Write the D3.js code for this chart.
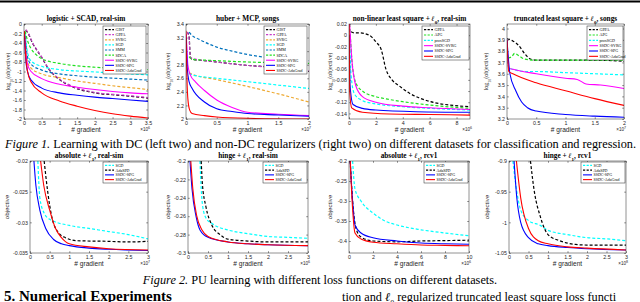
<!DOCTYPE html>
<html>
<head>
<meta charset="utf-8">
<script src="https://cdn.jsdelivr.net/npm/d3@7"></script>
<style>
  body { margin: 0; background: #fff; }
  svg { display: block; }
</style>
</head>
<body>
<svg width="640" height="302"></svg>
<script>
// ---- data: top row (Figure 1) ----
// logistic + SCAD, real-sim  (x in 1e6 gradients, y = log10 objective)
const lsc_GIST = [[0.05,-0.13],[0.12,-0.2],[0.24,-0.4],[0.48,-0.68],[0.71,-0.96],[1,-1.17],[1.33,-1.31],[2,-1.45],[2.5,-1.49],[3,-1.52],[3.5,-1.56]];
const lsc_GPPA = [[0.05,-0.12],[0.12,-0.19],[0.24,-0.39],[0.48,-0.67],[0.71,-0.95],[1,-1.16],[1.33,-1.3],[2,-1.44],[2.5,-1.48],[3,-1.51],[3.5,-1.55]];
const lsc_SVRG = [[0.03,-0.3],[0.1,-0.8],[0.2,-0.93],[0.5,-1.05],[1,-1.13],[1.5,-1.2],[2,-1.25],[2.5,-1.3],[3,-1.34],[3.5,-1.38]];
const lsc_SGD = [[0.03,-0.2],[0.1,-0.6],[0.2,-0.78],[0.5,-0.89],[1,-0.96],[1.5,-0.99],[2,-1.01],[2.5,-1.03],[3,-1.05],[3.5,-1.07]];
const lsc_SMM = [[0.03,-0.25],[0.1,-0.7],[0.2,-0.85],[0.5,-0.97],[1,-1.05],[1.5,-1.09],[2,-1.12],[2.5,-1.14],[3,-1.16],[3.5,-1.18]];
const lsc_SDCA = [[0.03,-0.15],[0.1,-0.35],[0.2,-0.52],[0.35,-0.65],[0.5,-0.73],[1,-0.83],[1.5,-0.88],[2,-0.91],[2.5,-0.93],[3,-0.95],[3.5,-0.96]];
const lsc_SSVRG = [[0.01,-0.15],[0.05,-0.6],[0.1,-0.85],[0.2,-1.0],[0.5,-1.15],[1,-1.27],[1.5,-1.33],[2,-1.38],[2.5,-1.42],[3,-1.45],[3.5,-1.47]];
const lsc_SSPG = [[0.01,-0.2],[0.05,-0.75],[0.1,-1.0],[0.2,-1.18],[0.5,-1.35],[1,-1.45],[1.5,-1.5],[2,-1.54],[2.5,-1.57],[3,-1.6],[3.5,-1.63]];
const lsc_SADA = [[0.01,-0.15],[0.05,-0.7],[0.1,-1.0],[0.2,-1.22],[0.5,-1.45],[1,-1.62],[1.5,-1.73],[2,-1.82],[2.5,-1.89],[3,-1.94],[3.5,-1.98]];

// huber + MCP, songs (x in 1e7)
const hmc_GIST = [[0.02,3.28],[0.05,3.22],[0.07,2.92],[0.1,2.88],[0.3,2.86],[0.5,2.84],[1,2.79],[1.5,2.76],[2,2.7]];
const hmc_GPPA = [[0.02,3.28],[0.05,3.2],[0.07,2.9],[0.5,2.84],[1,2.79],[1.5,2.75],[2,2.71]];
const hmc_SVRG = [[0.05,2.68],[0.1,2.66],[0.5,2.58],[1,2.48],[1.5,2.37],[2,2.25]];
const hmc_SGD = [[0.05,2.67],[0.1,2.65],[0.5,2.6],[1,2.55],[1.5,2.5],[2,2.45]];
const hmc_SMM = [[0.05,3.28],[0.1,3.23],[0.2,3.18],[0.5,3.06],[0.75,3.0],[1,2.95],[1.5,2.89],[2,2.86]];
const hmc_SDCA = [[0.05,2.92],[0.1,2.88],[0.5,2.86],[1,2.84],[1.5,2.83],[2,2.82]];
const hmc_SSVRG = [[0.005,3.25],[0.03,2.8],[0.07,2.65],[0.15,2.55],[0.3,2.42],[0.5,2.28],[0.75,2.17],[1,2.1],[1.5,2.07],[2,2.05]];
const hmc_SSPG = [[0.005,3.2],[0.02,2.75],[0.05,2.55],[0.1,2.45],[0.3,2.25],[0.5,2.15],[0.75,2.11],[1,2.08],[1.5,2.06],[2,2.04]];
const hmc_SADA = [[0,3.3],[0.01,2.8],[0.03,2.3],[0.06,2.13],[0.1,2.08],[0.3,2.05],[0.5,2.03],[1,2.01],[2,2.0]];

// non-linear least square + l0, real-sim (x in 1e6)
const nls_GPPA = [[0.15,0.006],[0.4,0.004],[0.8,0.004],[1.5,0.0],[2,-0.012],[2.4,-0.026],[2.75,-0.061],[3.2,-0.08],[3.75,-0.091],[4.5,-0.104],[5.2,-0.112],[6.4,-0.121],[7.5,-0.125],[9,-0.128]];
const nls_APG = [[0.05,0.02],[0.2,-0.04],[0.5,-0.085],[1,-0.1],[2,-0.11],[3,-0.115],[4,-0.119],[6,-0.125],[9,-0.131]];
const nls_PSGD = [[0.05,0.0],[0.15,-0.07],[0.4,-0.105],[1,-0.117],[2,-0.123],[4,-0.128],[6,-0.131],[9,-0.134]];
const nls_SSVRG = [[0.05,0.02],[0.2,-0.04],[0.5,-0.09],[1,-0.11],[2,-0.12],[4,-0.127],[6,-0.13],[9,-0.133]];
const nls_SSPG = [[0.02,0.0],[0.08,-0.09],[0.3,-0.124],[1,-0.131],[2,-0.134],[5,-0.137],[9,-0.138]];
const nls_SADA = [[0.01,0.02],[0.05,-0.1],[0.2,-0.13],[1,-0.138],[3,-0.141],[6,-0.142],[9,-0.143]];

// truncated least square + l0, songs (x in 1e7)
const tls_GPPA = [[0,3.91],[0.1,3.89],[0.2,3.85],[0.3,3.78],[0.4,3.73],[0.5,3.72],[1,3.72],[1.5,3.72],[2,3.71]];
const tls_APG = [[0.02,3.74],[0.08,3.75],[0.13,3.78],[0.2,3.76],[0.3,3.73],[0.5,3.72],[1,3.72],[2,3.72]];
const tls_PSGD = [[0,3.9],[0.03,3.65],[0.1,3.64],[0.3,3.62],[0.5,3.62],[1,3.61],[1.5,3.6],[2,3.59]];
const tls_SSVRG = [[0,3.9],[0.03,3.65],[0.1,3.64],[0.5,3.6],[1,3.56],[1.2,3.55],[1.35,3.51],[1.6,3.5],[2,3.47]];
const tls_SSPG = [[0,3.9],[0.05,3.6],[0.15,3.45],[0.25,3.35],[0.35,3.3],[0.5,3.27],[1,3.24],[1.5,3.225],[2,3.215]];
const tls_SADA = [[0,3.9],[0.03,3.62],[0.1,3.6],[0.5,3.52],[1,3.45],[1.5,3.38],[2,3.32]];

// ---- data: bottom row (Figure 2) ----
const ars_SGD = [[0.2,-0.02],[0.25,-0.026],[0.36,-0.0285],[0.5,-0.0295],[1,-0.0305],[1.5,-0.031],[2,-0.0315],[2.5,-0.032],[3,-0.0327]];
const ars_ADA = [[0.36,-0.02],[0.45,-0.025],[0.55,-0.029],[0.7,-0.0315],[0.9,-0.0325],[1.2,-0.033],[2,-0.0331],[2.5,-0.0332],[3,-0.0331]];
const ars_SSPG = [[0.1,-0.02],[0.15,-0.024],[0.25,-0.028],[0.4,-0.031],[0.6,-0.0328],[0.8,-0.0335],[1,-0.0338],[1.5,-0.0342],[2,-0.0344],[3,-0.0346]];
const ars_SADA = [[0.27,-0.02],[0.35,-0.024],[0.5,-0.028],[0.65,-0.031],[0.8,-0.0325],[1,-0.0335],[1.5,-0.034],[2,-0.0343],[3,-0.0345]];

const hrs_SGD = [[0.3,-0.2],[0.33,-0.23],[0.37,-0.25],[0.45,-0.262],[0.6,-0.268],[1,-0.275],[1.5,-0.279],[2,-0.282],[2.5,-0.283],[3,-0.284]];
const hrs_ADA = [[0.33,-0.2],[0.36,-0.225],[0.45,-0.25],[0.6,-0.27],[0.8,-0.28],[1,-0.285],[1.5,-0.287],[2,-0.288],[3,-0.288]];
const hrs_SSPG = [[0.05,-0.2],[0.1,-0.23],[0.2,-0.26],[0.3,-0.275],[0.5,-0.283],[1,-0.288],[1.5,-0.29],[2,-0.291],[3,-0.292]];
const hrs_SADA = [[0.07,-0.2],[0.12,-0.23],[0.22,-0.26],[0.35,-0.275],[0.5,-0.282],[1,-0.288],[1.5,-0.29],[2,-0.291],[3,-0.292]];

const arc_SGD = [[0.3,-0.2],[0.5,-0.27],[1,-0.3],[2,-0.33],[3,-0.35],[4,-0.36],[6,-0.372],[8,-0.38],[10,-0.387]];
const arc_ADA = [[0.1,-0.2],[0.3,-0.3],[0.6,-0.37],[1,-0.39],[2,-0.4],[4,-0.402],[6,-0.4],[8,-0.399],[10,-0.398]];
const arc_SSPG = [[0.1,-0.2],[0.3,-0.3],[0.5,-0.36],[1,-0.38],[2,-0.392],[4,-0.4],[6,-0.405],[8,-0.407],[10,-0.408]];
const arc_SADA = [[0.1,-0.2],[0.3,-0.32],[0.5,-0.38],[1,-0.395],[2,-0.403],[4,-0.407],[6,-0.41],[8,-0.411],[10,-0.412]];

const hrc_SGD = [[0.1,-0.9],[0.2,-0.95],[0.3,-0.98],[0.5,-0.997],[0.8,-1.005],[1,-1.013],[1.5,-1.02],[2,-1.025],[2.5,-1.027],[3,-1.03]];
const hrc_ADA = [[0.55,-0.9],[0.65,-0.95],[0.8,-0.99],[1,-1.02],[1.3,-1.03],[1.7,-1.036],[2,-1.037],[3,-1.037]];
const hrc_SSPG = [[0.13,-0.9],[0.2,-0.96],[0.3,-1.0],[0.5,-1.025],[0.75,-1.035],[1,-1.038],[1.5,-1.041],[2,-1.043],[3,-1.045]];
const hrc_SADA = [[0.19,-0.9],[0.3,-0.96],[0.5,-1.01],[0.75,-1.03],[1,-1.035],[1.5,-1.04],[2,-1.042],[3,-1.045]];

// tick values
const ticks_lsc_x = [0,0.5,1,1.5,2,2.5,3,3.5], ticks_lsc_y = [-2,-1.8,-1.6,-1.4,-1.2,-1,-0.8,-0.6,-0.4,-0.2,0];
const ticks_hmc_x = [0,0.5,1,1.5,2], ticks_hmc_y = [2,2.2,2.4,2.6,2.8,3,3.2,3.4];
const ticks_nls_x = [0,2,4,6,8], ticks_nls_y = [-0.14,-0.12,-0.1,-0.08,-0.06,-0.04,-0.02,0,0.02];
const ticks_tls_x = [0,0.5,1,1.5,2], ticks_tls_y = [3.2,3.3,3.4,3.5,3.6,3.7,3.8,3.9,4];
const ticks_ars_x = [0,0.5,1,1.5,2,2.5,3], ticks_ars_y = [-0.035,-0.03,-0.025,-0.02];
const ticks_hrs_x = [0,0.5,1,1.5,2,2.5,3], ticks_hrs_y = [-0.3,-0.28,-0.26,-0.24,-0.22,-0.2];
const ticks_arc_x = [0,2,4,6,8,10], ticks_arc_y = [-0.4,-0.35,-0.3,-0.25,-0.2];
const ticks_hrc_x = [0,0.5,1,1.5,2,2.5,3], ticks_hrc_y = [-1.05,-1,-0.95,-0.9];

// line styles
const sty = {
  GIST: {c:'#000', d:'3,2'}, GPPA: {c:'#c83cc8', d:'3,2'}, GPPAk: {c:'#000', d:'3,2'},
  SVRG: {c:'#eeaa33', d:'3,2'}, SGD: {c:'#00ffff', d:'3,2'}, SMM: {c:'#0072bd', d:'3,2'},
  SDCA: {c:'#22e022', d:'3,2'}, APG: {c:'#22e022', d:'3,2'}, PSGD: {c:'#00ffff', d:'3,2'},
  ADA: {c:'#000', d:'3,2'},
  SSVRG: {c:'#ff00ff', d:null}, SSPG: {c:'#0000ff', d:null}, SADA: {c:'#ff0000', d:null}
};

const svg = d3.select('svg');
const fmt = d => String(+(+d).toFixed(4));

// top page rule
svg.append('rect').attr('x', 0).attr('y', 0.5).attr('width', 640).attr('height', 2).attr('fill', '#000');

function drawPanel(p) {
  const [x0, y0, x1, y1] = p.box;
  const x = d3.scaleLinear().domain(p.xDomain).range([x0, x1]);
  const y = d3.scaleLinear().domain(p.yDomain).range([y1, y0]);
  const g = svg.append('g');

  g.append('clipPath').attr('id', 'clip' + p.id)
    .append('rect').attr('x', x0).attr('y', y0).attr('width', x1 - x0).attr('height', y1 - y0);

  // axes, ticks pointing in (matlab style)
  const ax = (gen, tx, ty, labels) => {
    const a = g.append('g').attr('transform', `translate(${tx},${ty})`)
      .call(gen.tickSize(-1.8).tickSizeOuter(0).tickPadding(labels ? 2 : 0)
        .tickFormat(labels ? fmt : ''));
    a.select('.domain').remove();
    a.selectAll('line').attr('stroke', '#262626').attr('stroke-width', 0.5);
    a.selectAll('text').attr('fill', '#262626').style('font-family', 'Liberation Sans, Arial, sans-serif').style('font-size', '5.3px');
  };
  ax(d3.axisBottom(x).tickValues(p.xTicks), 0, y1, true);
  ax(d3.axisTop(x).tickValues(p.xTicks), 0, y0, false);
  ax(d3.axisLeft(y).tickValues(p.yTicks), x0, 0, true);
  ax(d3.axisRight(y).tickValues(p.yTicks), x1, 0, false);

  const line = d3.line().x(d => x(d[0])).y(d => y(d[1])).curve(d3.curveMonotoneX);
  const lines = g.append('g').attr('clip-path', `url(#clip${p.id})`);
  p.series.forEach(s => {
    const st = sty[s.k];
    lines.append('path').attr('d', line(s.data))
      .attr('fill', 'none').attr('stroke', st.c)
      .attr('stroke-width', st.d ? 1.2 : 1.1)
      .attr('stroke-dasharray', st.d);
  });

  g.append('rect').attr('x', x0).attr('y', y0).attr('width', x1 - x0).attr('height', y1 - y0)
    .attr('fill', 'none').attr('stroke', '#262626').attr('stroke-width', 0.5);

  // title
  const t = g.append('text').attr('x', (x0 + x1) / 2).attr('y', y0 - 3.5).attr('text-anchor', 'middle')
    .style('font-family', 'Liberation Serif, Times New Roman, serif').style('font-weight', 'bold').style('font-size', '7.3px');
  p.title.forEach(part => {
    const ts = t.append('tspan').text(part.t);
    if (part.i) ts.style('font-style', 'italic');
    if (part.sub) ts.attr('baseline-shift', 'sub').style('font-size', '5px');
  });

  // x label + exponent
  g.append('text').attr('x', (x0 + x1) / 2).attr('y', y1 + 13).attr('text-anchor', 'middle')
    .attr('fill', '#262626')
    .style('font-family', 'Liberation Sans, Arial, sans-serif').style('font-size', '6.6px').text('# gradient');
  const e = g.append('text').attr('x', x1 + 2).attr('y', y1 + 12).attr('text-anchor', 'end')
    .attr('fill', '#262626')
    .style('font-family', 'Liberation Sans, Arial, sans-serif').style('font-size', '4.6px');
  e.append('tspan').text('\u00d710');
  e.append('tspan').attr('baseline-shift', 'super').style('font-size', '3.6px').text(p.exp);

  // y label
  const yl = g.append('text').attr('transform', `translate(${p.ylx},${(y0 + y1) / 2}) rotate(-90)`)
    .attr('text-anchor', 'middle').attr('fill', '#262626')
    .style('font-family', p.logY ? 'Liberation Serif, serif' : 'Liberation Sans, Arial, sans-serif')
    .style('font-size', p.logY ? '6px' : '6.2px');
  if (p.logY) {
    yl.append('tspan').text('log');
    yl.append('tspan').attr('baseline-shift', 'sub').style('font-size', '4px').text('10');
    yl.append('tspan').text('(objective)');
  } else {
    yl.text('objective');
  }

  // legend
  const [lx0, ly0, lx1, ly1] = p.legend;
  g.append('rect').attr('x', lx0).attr('y', ly0).attr('width', lx1 - lx0).attr('height', ly1 - ly0)
    .attr('fill', '#fff').attr('stroke', '#262626').attr('stroke-width', 0.5);
  const rh = (ly1 - ly0 - 2) / p.series.length;
  p.series.forEach((s, i) => {
    const st = sty[s.k];
    const cy = ly0 + 1 + rh * (i + 0.5);
    g.append('line').attr('x1', lx0 + 2).attr('x2', lx0 + 11).attr('y1', cy).attr('y2', cy)
      .attr('stroke', st.c).attr('stroke-width', st.d ? 1.2 : 1.1).attr('stroke-dasharray', st.d ? '2.2,1.4' : null);
    g.append('text').attr('x', lx0 + 12.5).attr('y', cy + 1.4)
      .style('font-family', 'Liberation Serif, serif').style('font-size', '4px').attr('fill', '#000').text(s.name);
  });
}

const L = (t, o = {}) => Object.assign({t}, o);

const panels = [
  {id: 'a', box: [24, 24, 148, 119], xDomain: [0, 3.5], yDomain: [-2, 0], xTicks: ticks_lsc_x, yTicks: ticks_lsc_y,
   exp: '6', logY: true, ylx: 10, legend: [103, 26, 146, 74],
   title: [L('logistic + SCAD, real-sim')],
   series: [{k:'GIST', name:'GIST', data: lsc_GIST}, {k:'GPPA', name:'GPPA', data: lsc_GPPA}, {k:'SVRG', name:'SVRG', data: lsc_SVRG},
            {k:'SGD', name:'SGD', data: lsc_SGD}, {k:'SMM', name:'SMM', data: lsc_SMM}, {k:'SDCA', name:'SDCA', data: lsc_SDCA},
            {k:'SSVRG', name:'SSDC-SVRG', data: lsc_SSVRG}, {k:'SSPG', name:'SSDC-SPG', data: lsc_SSPG}, {k:'SADA', name:'SSDC-AdaGrad', data: lsc_SADA}]},
  {id: 'b', box: [186, 24, 309, 119], xDomain: [0, 2], yDomain: [2, 3.4], xTicks: ticks_hmc_x, yTicks: ticks_hmc_y,
   exp: '7', logY: true, ylx: 170, legend: [264, 26, 307, 74],
   title: [L('huber + MCP, songs')],
   series: [{k:'GIST', name:'GIST', data: hmc_GIST}, {k:'GPPA', name:'GPPA', data: hmc_GPPA}, {k:'SVRG', name:'SVRG', data: hmc_SVRG},
            {k:'SGD', name:'SGD', data: hmc_SGD}, {k:'SMM', name:'SMM', data: hmc_SMM}, {k:'SDCA', name:'SDCA', data: hmc_SDCA},
            {k:'SSVRG', name:'SSDC-SVRG', data: hmc_SSVRG}, {k:'SSPG', name:'SSDC-SPG', data: hmc_SSPG}, {k:'SADA', name:'SSDC-AdaGrad', data: hmc_SADA}]},
  {id: 'c', box: [349, 24, 470, 119], xDomain: [0, 9], yDomain: [-0.15, 0.02], xTicks: ticks_nls_x, yTicks: ticks_nls_y,
   exp: '6', logY: true, ylx: 332, legend: [422, 26, 469, 60],
   title: [L('non-linear least square + '), L('\u2113', {i: true}), L('0', {sub: true}), L(', real-sim')],
   series: [{k:'GPPAk', name:'GPPA', data: nls_GPPA}, {k:'APG', name:'APG', data: nls_APG}, {k:'PSGD', name:'proxSGD', data: nls_PSGD},
            {k:'SSVRG', name:'SSDC-SVRG', data: nls_SSVRG}, {k:'SSPG', name:'SSDC-SPG', data: nls_SSPG}, {k:'SADA', name:'SSDC-AdaGrad', data: nls_SADA}]},
  {id: 'd', box: [507, 24, 624, 119], xDomain: [0, 2], yDomain: [3.2, 4.04], xTicks: ticks_tls_x, yTicks: ticks_tls_y,
   exp: '7', logY: true, ylx: 488, legend: [587, 26, 623, 60],
   title: [L('truncated least square + '), L('\u2113', {i: true}), L('0', {sub: true}), L(', songs')],
   series: [{k:'GPPAk', name:'GPPA', data: tls_GPPA}, {k:'APG', name:'APG', data: tls_APG}, {k:'PSGD', name:'proxSGD', data: tls_PSGD},
            {k:'SSVRG', name:'SSDC-SVRG', data: tls_SSVRG}, {k:'SSPG', name:'SSDC-SPG', data: tls_SSPG}, {k:'SADA', name:'SSDC-AdaGrad', data: tls_SADA}]},
  {id: 'e', box: [30, 161, 148, 253], xDomain: [0, 3], yDomain: [-0.035, -0.02], xTicks: ticks_ars_x, yTicks: ticks_ars_y,
   exp: '7', logY: false, ylx: 9, legend: [103, 162, 147, 183],
   title: [L('absolute + '), L('\u2113', {i: true}), L('1', {sub: true}), L(', real-sim')],
   series: [{k:'SGD', name:'SGD', data: ars_SGD}, {k:'ADA', name:'AdaSPD', data: ars_ADA},
            {k:'SSPG', name:'SSDC-SPG', data: ars_SSPG}, {k:'SADA', name:'SSDC-AdaGrad', data: ars_SADA}]},
  {id: 'f', box: [188, 161, 308, 253], xDomain: [0, 3], yDomain: [-0.3, -0.2], xTicks: ticks_hrs_x, yTicks: ticks_hrs_y,
   exp: '6', logY: false, ylx: 170, legend: [263, 162, 307, 183],
   title: [L('hinge + '), L('\u2113', {i: true}), L('1', {sub: true}), L(', real-sim')],
   series: [{k:'SGD', name:'SGD', data: hrs_SGD}, {k:'ADA', name:'AdaSPD', data: hrs_ADA},
            {k:'SSPG', name:'SSDC-SPG', data: hrs_SSPG}, {k:'SADA', name:'SSDC-AdaGrad', data: hrs_SADA}]},
  {id: 'g', box: [349, 161, 469, 253], xDomain: [0, 10], yDomain: [-0.43, -0.2], xTicks: ticks_arc_x, yTicks: ticks_arc_y,
   exp: '6', logY: false, ylx: 332, legend: [424, 162, 468, 183],
   title: [L('absolute + '), L('\u2113', {i: true}), L('1', {sub: true}), L(', rcv1')],
   series: [{k:'SGD', name:'SGD', data: arc_SGD}, {k:'ADA', name:'AdaSPD', data: arc_ADA},
            {k:'SSPG', name:'SSDC-SPG', data: arc_SSPG}, {k:'SADA', name:'SSDC-AdaGrad', data: arc_SADA}]},
  {id: 'h', box: [509, 161, 626, 253], xDomain: [0, 3], yDomain: [-1.05, -0.9], xTicks: ticks_hrc_x, yTicks: ticks_hrc_y,
   exp: '8', logY: false, ylx: 489, legend: [581, 162, 625, 183],
   title: [L('hinge + '), L('\u2113', {i: true}), L('1', {sub: true}), L(', rcv1')],
   series: [{k:'SGD', name:'SGD', data: hrc_SGD}, {k:'ADA', name:'AdaSPD', data: hrc_ADA},
            {k:'SSPG', name:'SSDC-SPG', data: hrc_SSPG}, {k:'SADA', name:'SSDC-AdaGrad', data: hrc_SADA}]}
];

panels.forEach(drawPanel);

// captions and page text (justified lines spread by word spacing)
const serif = 'Liberation Serif, Times New Roman, serif';
function justify(sel, x0, x1) {
  const w = sel.node().getComputedTextLength();
  const gaps = (sel.text().match(/ /g) || []).length;
  if (gaps) sel.attr('word-spacing', (x1 - x0 - w) / gaps);
}

const cap1 = svg.append('text').attr('x', 5).attr('y', 148).style('font-family', serif).style('font-size', '12.3px').attr('fill', '#000');
cap1.append('tspan').style('font-style', 'italic').text('Figure 1.');
cap1.append('tspan').text(' Learning with DC (left two) and non-DC regularizers (right two) on different datasets for classification and regression.');
justify(cap1, 5, 636);

const cap2 = svg.append('text').attr('x', 320).attr('y', 284).attr('text-anchor', 'middle').style('font-family', serif).style('font-size', '12.3px').attr('fill', '#000');
cap2.append('tspan').style('font-style', 'italic').text('Figure 2.');
cap2.append('tspan').text(' PU learning with different loss functions on different datasets.');

svg.append('text').attr('x', 4).attr('y', 301).style('font-family', serif).style('font-weight', 'bold').style('font-size', '15px').text('5. Numerical Experiments');
const body = svg.append('text').attr('x', 342).attr('y', 301).style('font-family', serif).style('font-size', '12.3px');
body.append('tspan').text('tion and ');
body.append('tspan').style('font-style', 'italic').text('\u2113');
body.append('tspan').attr('baseline-shift', 'sub').style('font-size', '8px').text('0');
body.append('tspan').text(' regularized truncated least square loss functi');
</script>
</body>
</html>
